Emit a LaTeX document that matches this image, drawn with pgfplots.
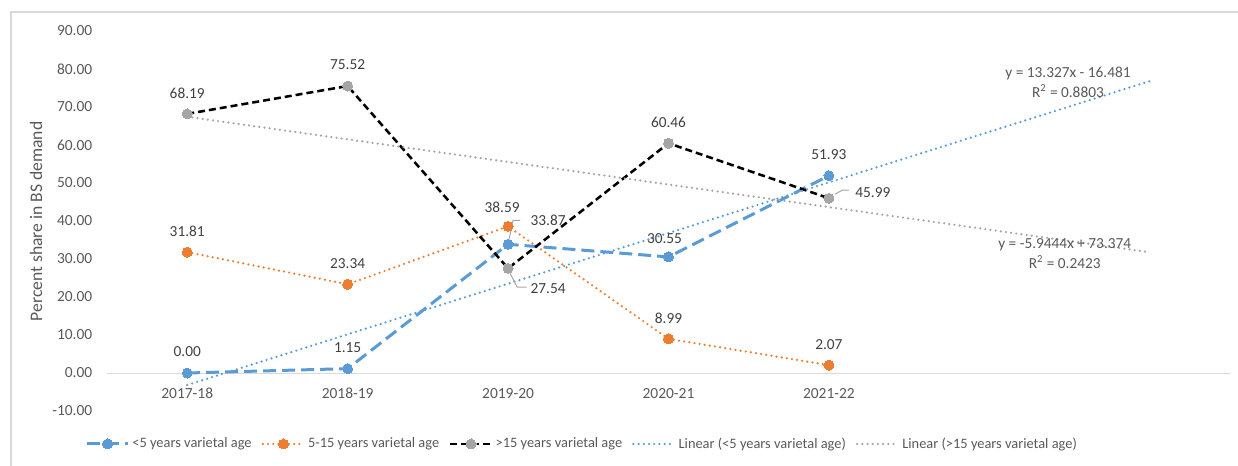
\documentclass[border=0pt]{standalone}
\usepackage{pgfplots}
\pgfplotsset{compat=1.18}
\usepackage{fontspec}
\setmainfont{Carlito}
\definecolor{cblue}{HTML}{5B9BD5}
\definecolor{corange}{HTML}{ED7D31}
\definecolor{cgrey}{HTML}{A5A5A5}
\definecolor{ctext}{HTML}{595959}
\definecolor{clabel}{HTML}{404040}
\definecolor{cline}{HTML}{D9D9D9}
\definecolor{clead}{HTML}{A6A6A6}
\tikzset{dl/.style={text=clabel,font=\fontsize{11.5}{14}\selectfont}}

\begin{document}
\begin{tikzpicture}[font=\fontsize{11.5}{14}\selectfont]
\begin{axis}[
  name=ax, scale only axis,
  width=842.25pt, height=285pt,
  xmin=0.5, xmax=7.5, ymin=-10, ymax=90,
  axis x line=middle, axis y line=left,
  hide obscured x ticks=false, hide obscured y ticks=false,
  x axis line style={-,cline,line width=0.75pt},
  y axis line style={draw=none},
  major tick length=0pt,
  xtick={1,...,5},
  xticklabels={2017-18,2018-19,2019-20,2020-21,2021-22},
  ytick={-10,0,...,90},
  /pgf/number format/assume math mode=true,
  yticklabel style={/pgf/number format/fixed,/pgf/number format/fixed zerofill,/pgf/number format/precision=2,xshift=-7.5pt,text=ctext},
  xticklabel style={yshift=-8pt,text=ctext},
  tick label style={font=\fontsize{11.6}{14}\selectfont},
  legend style={at={(0.4234,-0.0868)},anchor=center,draw=none,fill=none,
    font=\fontsize{10.8}{13}\selectfont,text=ctext,
    nodes={inner xsep=2pt},
    /tikz/every even column/.append style={column sep=5.5pt}},
  legend columns=5,
  legend image code/.code={\draw[mark repeat=2,mark phase=2] plot coordinates {(0pt,0pt) (15.5pt,0pt) (31pt,0pt)};},
  clip=false,
]
% <5 years
\addplot[cblue,line width=2.25pt,dash pattern=on 9.75pt off 4.5pt,
  mark=*,mark size=3.75pt,mark options={solid,fill=cblue,draw=cblue,line width=0pt}]
  coordinates {(1,0) (2,1.15) (3,33.87) (4,30.55) (5,51.93)};
\addlegendentry{<5 years varietal age}
% 5-15 years
\addplot[corange,line width=1.85pt,line cap=round,dash pattern=on 0pt off 3.9pt,
  mark=*,mark size=3.75pt,mark options={solid,fill=corange,draw=corange,line width=0pt}]
  coordinates {(1,31.81) (2,23.34) (3,38.59) (4,8.99) (5,2.07)};
\addlegendentry{5-15 years varietal age}
% >15 years
\addplot[black,line width=1.9pt,dash pattern=on 5.25pt off 3pt,
  mark=*,mark size=3.75pt,mark options={solid,fill=cgrey,draw=cgrey,line width=0pt}]
  coordinates {(1,68.19) (2,75.52) (3,27.54) (4,60.46) (5,45.99)};
\addlegendentry{>15 years varietal age}
% linear trends, two periods forward
\addplot[cblue,line width=1.85pt,line cap=round,dash pattern=on 0pt off 3.9pt]
  coordinates {(1,-3.154) (7,76.808)};
\addlegendentry{Linear (<5 years varietal age)}
\addplot[cgrey,line width=1.85pt,line cap=round,dash pattern=on 0pt off 3.9pt]
  coordinates {(1,67.4296) (7,31.7632)};
\addlegendentry{Linear (>15 years varietal age)}

% data labels
\node[dl,yshift=15.75pt] at (axis cs:1,0) {0.00};
\node[dl,yshift=15.75pt] at (axis cs:2,1.15) {1.15};
\node[dl,xshift=30pt,yshift=18pt] at (axis cs:3,33.87) {33.87};
\node[dl,xshift=-3pt,yshift=13.5pt] at (axis cs:4,30.55) {30.55};
\node[dl,yshift=15.75pt] at (axis cs:5,51.93) {51.93};

\node[dl,yshift=15.75pt] at (axis cs:1,31.81) {31.81};
\node[dl,yshift=15.75pt] at (axis cs:2,23.34) {23.34};
\node[dl,xshift=-4.5pt,yshift=14.5pt] at (axis cs:3,38.59) {38.59};
\node[dl,yshift=15.75pt] at (axis cs:4,8.99) {8.99};
\node[dl,yshift=15.75pt] at (axis cs:5,2.07) {2.07};

\node[dl,yshift=15.75pt] at (axis cs:1,68.19) {68.19};
\node[dl,yshift=15.75pt] at (axis cs:2,75.52) {75.52};
\node[dl,xshift=30pt,yshift=-15pt] at (axis cs:3,27.54) {27.54};
\node[dl,yshift=15.75pt] at (axis cs:4,60.46) {60.46};
\node[dl,xshift=33pt,yshift=4.5pt] at (axis cs:5,45.99) {45.99};

% leader lines
\draw[clead,line width=0.75pt] ([xshift=0.75pt,yshift=3.75pt]axis cs:3,33.87) -- ([xshift=3.75pt,yshift=18pt]axis cs:3,33.87) -- ([xshift=9pt,yshift=18pt]axis cs:3,33.87);
\draw[clead,line width=0.75pt] ([xshift=1.5pt,yshift=-3.75pt]axis cs:3,27.54) -- ([xshift=6.75pt,yshift=-14pt]axis cs:3,27.54) -- ([xshift=14pt,yshift=-14pt]axis cs:3,27.54);
\draw[clead,line width=0.75pt] ([xshift=4.5pt,yshift=3pt]axis cs:5,45.99) -- ([xshift=10pt,yshift=6pt]axis cs:5,45.99) -- ([xshift=15pt,yshift=6pt]axis cs:5,45.99);

% trend equations
\node[text=ctext,align=center,font=\fontsize{11.5}{15}\selectfont] at (axis cs:6.49,76.6) {y = 13.327x - 16.481\\R\textsuperscript{2} = 0.8803};
\node[text=ctext,align=center,font=\fontsize{11.5}{15}\selectfont] at (axis cs:6.47,31.5) {y = -5.9444x + 73.374\\R\textsuperscript{2} = 0.2423};

% lower-left corner of the plot area
\coordinate (LL) at (axis cs:0.5,-10);
\end{axis}
% chart area: frame, axis title and page size, measured from the plot corner
\pgfresetboundingbox
\begin{scope}[shift={(LL)},x=0.75pt,y=0.75pt]
\path[use as bounding box] (-107,-54) rectangle (1131,411);
\draw[cline,line width=1pt] (-96,-60) -- (-96,399) -- (1140,399);
\node[rotate=90,text=ctext,font=\fontsize{13.2}{16}\selectfont] at (-71,189.5) {Percent share in BS demand};
\end{scope}
\end{tikzpicture}
\end{document}
